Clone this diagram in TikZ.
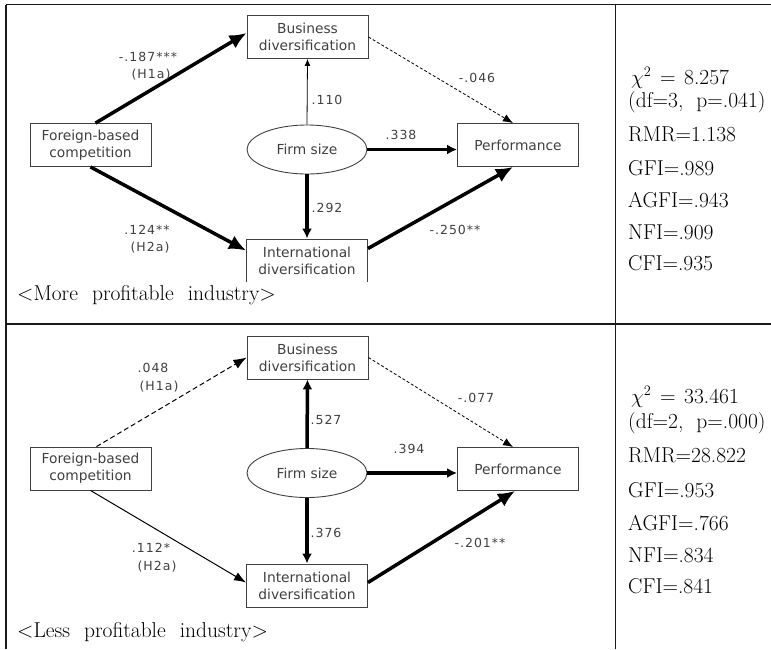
\documentclass[tikz,border=0pt]{standalone}
\usepackage{fontspec}
\newfontfamily\gulim{DejaVu Sans}
\newfontfamily\gulimwide{DejaVu Sans}[LetterSpace=8]
\usetikzlibrary{arrows.meta, shapes.geometric, positioning}
\tikzset{
  >=Latex,
  x=1pt, y=-1pt,
  var/.style={draw=black!75, line width=0.9pt, rectangle, minimum width=121pt,
    minimum height=43pt, inner sep=0pt, align=center, text=black!75,
    font=\gulim\fontsize{13.8}{17}\selectfont},
  latent/.style={var, ellipse, minimum width=120pt, minimum height=49pt},
  coef/.style={inner sep=0pt, align=center, text=black!75,
    font=\gulimwide\fontsize{12.5}{17}\selectfont},
  fitstat/.style={anchor=base west, inner sep=0pt, font=\fontsize{21.5}{24}\selectfont},
  caption/.style={anchor=base west, inner sep=0pt, font=\fontsize{21.5}{24}\selectfont},
  rule/.style={line width=1.1pt, black!90},
  strongpath/.style={line width=3.5pt, -{Latex[length=17pt,width=15pt]}},
  shortpath/.style={line width=3.5pt, -{Latex[length=10pt,width=10pt]}},
  weakpath/.style={line width=0.8pt, -{Latex[length=7pt,width=6pt]}},
  thinpath/.style={line width=1pt, -{Latex[length=12pt,width=9pt]}},
  nspath/.style={line width=0.8pt, dash pattern=on 3pt off 2pt, -{Latex[length=10pt,width=8pt]}},
  nsmedium/.style={line width=1pt, dash pattern=on 5pt off 3pt, -{Latex[length=13pt,width=10pt]}},
}
\newcommand{\gap}{\hspace{0.65em}}
\newcommand{\eqgap}{\hspace{0.4em}}

\begin{document}
\begin{tikzpicture}
  \useasboundingbox (0,0) rectangle (771,649);

  % table frame
  \draw[rule] (6,4.5) -- (771,4.5)
              (6,4.5) -- (6,649)
              (615.5,4.5) -- (615.5,649)
              (6,324) -- (771,324);

  % more profitable industry
  \node[var] (bd1) at (307.5,37) {Business\\diversification};
  \node[var] (fbc1) at (90.5,145) {Foreign-based\\competition};
  \node[latent] (fs1) at (307,149.5) {Firm size};
  \node[var] (perf1) at (518,145) {Performance};
  \begin{scope}
    \clip (240,230) rectangle (375,281);
    \node[var] (id1) at (307,260.5) {International\\diversification};
  \end{scope}

  \draw[strongpath] ([xshift=5pt]fbc1.north) -- ([yshift=4pt]bd1.west);
  \draw[strongpath] (fbc1.south) -- ([yshift=10pt]id1.west);
  \draw[weakpath] (fs1.north) -- (bd1.south);
  \draw[shortpath] (fs1.south) -- (id1.north);
  \draw[shortpath] (fs1.east) -- (fs1.east -| perf1.west);
  \draw[nspath] (bd1.east) -- ([xshift=-5pt]perf1.north);
  \draw[strongpath] ([yshift=12pt]id1.east) -- ([xshift=-5pt]perf1.south);

  \node[coef] (c1a) at (148,57) {-.187***};
  \node[coef] (h1a) at (151,75) {(H1a)};
  \node[coef] (c1b) at (147,230) {.124**};
  \node[coef] (h1b) at (150,248) {(H2a)};
  \node[coef] (c1c) at (327,100) {.110};
  \node[coef] (c1d) at (327,208) {.292};
  \node[coef] (c1e) at (401,135) {.338};
  \node[coef] (c1f) at (477,78) {-.046};
  \node[coef] (c1g) at (455,230) {-.250**};

  \node[caption] (cap1) at (17,300) {<More\gap profitable\gap industry>};

  \node[fitstat] (s1a) at (631,84) {$\chi^2$\eqgap=\eqgap 8.257};
  \node[fitstat] (s1b) at (628,107) {(df=3,\ \ p=.041)};
  \node[fitstat] (s1c) at (628,141) {RMR=1.138};
  \node[fitstat] (s1d) at (628,175) {GFI=.989};
  \node[fitstat] (s1e) at (628,207) {AGFI=.943};
  \node[fitstat] (s1f) at (628,239) {NFI=.909};
  \node[fitstat] (s1g) at (628,270) {CFI=.935};

  % less profitable industry
  \node[var] (bd2) at (307.5,357.5) {Business\\diversification};
  \node[var] (fbc2) at (90.5,468.5) {Foreign-based\\competition};
  \node[latent] (fs2) at (307,473) {Firm size};
  \node[var] (perf2) at (518,469) {Performance};
  \node[var] (id2) at (307,585.5) {International\\diversification};

  \draw[nsmedium] ([xshift=6pt]fbc2.north) -- (bd2.west);
  \draw[thinpath] (fbc2.south) -- ([yshift=3pt]id2.west);
  \draw[shortpath] (fs2.north) -- (bd2.south);
  \draw[shortpath] (fs2.south) -- (id2.north);
  \draw[shortpath] (fs2.east) -- (fs2.east -| perf2.west);
  \draw[nspath] (bd2.east) -- ([xshift=-5pt]perf2.north);
  \draw[strongpath] ([yshift=3pt]id2.east) -- ([xshift=-3pt]perf2.south);

  \node[coef] (c2a) at (153,368) {.048};
  \node[coef] (h2a) at (159,387) {(H1a)};
  \node[coef] (c2b) at (151,548) {.112*};
  \node[coef] (h2b) at (157,567) {(H2a)};
  \node[coef] (c2c) at (326,420) {.527};
  \node[coef] (c2d) at (326,533) {.376};
  \node[coef] (c2e) at (409,449) {.394};
  \node[coef] (c2f) at (476,398) {-.077};
  \node[coef] (c2g) at (480,543) {-.201**};

  \node[caption] (cap2) at (17,637) {<Less\gap profitable\gap industry>};

  \node[fitstat] (s2a) at (631,403) {$\chi^2$\eqgap=\eqgap 33.461};
  \node[fitstat] (s2b) at (628,428) {(df=2,\ \ p=.000)};
  \node[fitstat] (s2c) at (628,462) {RMR=28.822};
  \node[fitstat] (s2d) at (628,497) {GFI=.953};
  \node[fitstat] (s2e) at (628,530) {AGFI=.766};
  \node[fitstat] (s2f) at (628,562) {NFI=.834};
  \node[fitstat] (s2g) at (628,593) {CFI=.841};
\end{tikzpicture}
\end{document}
